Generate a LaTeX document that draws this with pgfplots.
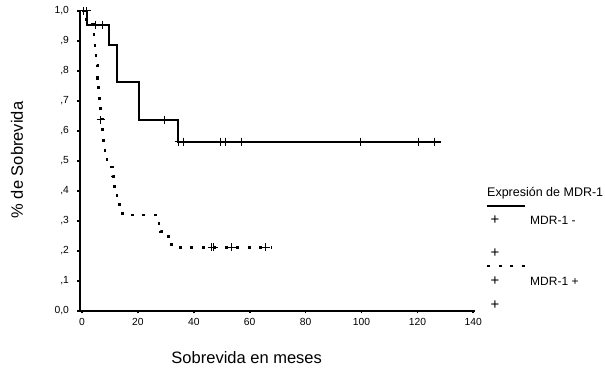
\documentclass[border=0pt]{standalone}
\usepackage{pgfplots}
\pgfplotsset{compat=1.18}
\usepackage{fontspec}
\setmainfont{Liberation Sans}
\begin{document}
\begin{tikzpicture}
\useasboundingbox (-80pt,-60pt) rectangle (525pt,311pt);
\begin{axis}[at={(0pt,0pt)}, anchor=south west, scale only axis,
  width=395pt, height=301pt,
  xmin=-0.7, xmax=140.6, ymin=0, ymax=1.003,
  axis x line=bottom, axis y line=left,
  axis line style={-, line width=1.6pt, black},
  clip=false,
  xtick={0,20,...,140},
  ytick={0,0.1,0.2,0.3,0.4,0.5,0.6,0.7,0.8,0.9,1.0},
  yticklabels={{0,0},{,1},{,2},{,3},{,4},{,5},{,6},{,7},{,8},{,9},{1,0}},
  tick align=outside, major tick length=2.5pt,
  tick style={line width=1.8pt, black},
  /pgf/number format/assume math mode=true,
  ticklabel style={font=\fontsize{10.3}{12}\selectfont},
  yticklabel style={xshift=-5pt},
  xticklabel style={yshift=-1pt},
]
% MDR-1 - (solid)
\addplot[const plot, black, line width=1.9pt] coordinates {
 (0,1.0) (1.7,0.953) (9.8,0.887) (12.4,0.764) (20.5,0.637) (34.5,0.564) (128.4,0.564)};
\addplot[only marks, mark=+, mark size=4pt, mark options={line width=1pt, black}] coordinates {
 (0.7,1.0) (1.7,1.0) (4.9,0.953) (7.2,0.953) (29.5,0.637)
 (34.6,0.564) (36.2,0.564) (49.4,0.564) (51.4,0.564) (56.9,0.564)
 (99.8,0.564) (120.3,0.564) (126.0,0.564)};
% MDR-1 + (dashed)
\addplot[const plot, black, line width=2.6pt, dash pattern=on 3pt off 8.5pt] coordinates {
 (0,1.0) (1.7,0.955) (4.3,0.91) (4.6,0.865) (5.0,0.82) (5.6,0.775) (6.0,0.73)
 (6.3,0.685) (6.6,0.64) (7.3,0.595) (7.8,0.55) (8.3,0.52) (9.0,0.48)
 (11.0,0.45) (11.3,0.42) (11.6,0.39) (12.5,0.37) (13.5,0.34) (14.5,0.32)
 (27.5,0.29) (28.2,0.265) (31.0,0.24) (32.0,0.212) (67.8,0.212)};
\addplot[only marks, mark=+, mark size=4pt, mark options={line width=1pt, black}] coordinates {
 (6.8,0.637) (46.4,0.212) (47.2,0.212) (53.6,0.212) (65.8,0.212)};
\end{axis}
% axis labels
\node[rotate=90, font=\fontsize{16.5}{18}\selectfont] at (-63pt,151pt) {\% de Sobrevida};
\node[font=\fontsize{16.5}{18}\selectfont] at (166.7pt,-47pt) {Sobrevida en meses};
% legend
\node[anchor=west, inner sep=0pt, font=\fontsize{12.5}{14}\selectfont] at (407pt,118pt) {Expresión de MDR-1};
\draw[black, line width=1.9pt] (407pt,105pt) -- (445pt,105pt);
\node[inner sep=0pt, font=\fontsize{15}{16}\selectfont] at (415pt,91pt) {+};
\node[anchor=west, inner sep=0pt, font=\fontsize{12}{14}\selectfont] at (450pt,91pt) {MDR-1 -};
\node[inner sep=0pt, font=\fontsize{15}{16}\selectfont] at (415pt,58pt) {+};
\draw[black, line width=2.6pt, dash pattern=on 3pt off 8.5pt] (407pt,45pt) -- (445pt,45pt);
\node[inner sep=0pt, font=\fontsize{15}{16}\selectfont] at (415pt,30pt) {+};
\node[anchor=west, inner sep=0pt, font=\fontsize{12}{14}\selectfont] at (450pt,30pt) {MDR-1 +};
\node[inner sep=0pt, font=\fontsize{15}{16}\selectfont] at (415pt,6pt) {+};
\end{tikzpicture}
\end{document}
